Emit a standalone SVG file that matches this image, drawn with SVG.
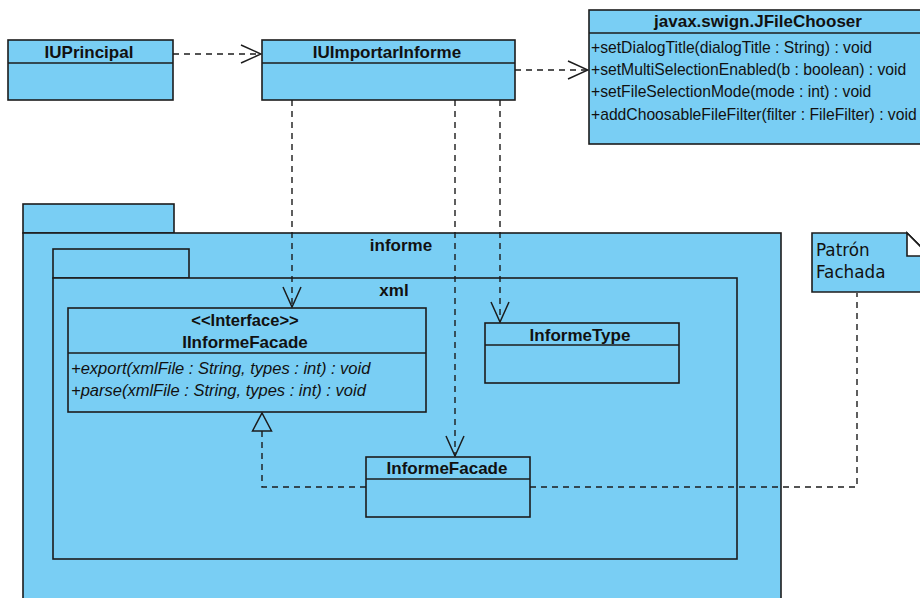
<svg xmlns="http://www.w3.org/2000/svg" width="920" height="598" viewBox="0 0 920 598">
  <style>
    .box { fill: #79CEF4; stroke: #1c1c1c; stroke-width: 1.6; }
    .sep { stroke: #1c1c1c; stroke-width: 1.6; fill: none; }
    .title { font-family: "Liberation Sans", Arial, sans-serif; font-weight: bold; font-size: 17px; fill: #111; text-anchor: middle; }
    .op { font-family: "Liberation Sans", Arial, sans-serif; font-size: 15.7px; fill: #111; }
    .opi { font-family: "Liberation Sans", Arial, sans-serif; font-size: 16.5px; font-style: italic; fill: #111; }
    .note { font-family: "DejaVu Sans", "Liberation Sans", sans-serif; font-size: 16.8px; fill: #111; }
    .dash { fill: none; stroke: #1c1c1c; stroke-width: 1.4; stroke-dasharray: 6 5; }
  </style>
  <defs>
    <marker id="open" viewBox="0 0 22 20" refX="21" refY="10" markerWidth="22" markerHeight="20" markerUnits="userSpaceOnUse" orient="auto">
      <path d="M1,1 L21,10 L1,19" fill="none" stroke="#1c1c1c" stroke-width="1.5"/>
    </marker>
    <marker id="realize" viewBox="0 0 20 22" refX="19" refY="11" markerWidth="20" markerHeight="22" markerUnits="userSpaceOnUse" orient="auto">
      <path d="M1,1.5 L19,11 L1,20.5 Z" fill="#79CEF4" stroke="#1c1c1c" stroke-width="1.5"/>
    </marker>
  </defs>

  <rect width="920" height="598" fill="#ffffff"/>

  <!-- package informe -->
  <g id="pkg-informe">
    <rect class="box" x="23" y="204" width="151" height="29"/>
    <rect class="box" x="23" y="233" width="758" height="370"/>
    <text class="title" x="401" y="251">informe</text>
  </g>

  <!-- package xml -->
  <g id="pkg-xml">
    <rect class="box" x="53" y="249" width="136" height="29"/>
    <rect class="box" x="53" y="278" width="684" height="281"/>
    <text class="title" x="394" y="296">xml</text>
  </g>

  <!-- classes -->
  <g id="IUPrincipal">
    <rect class="box" x="8" y="40" width="165" height="60"/>
    <line class="sep" x1="8" y1="63" x2="173" y2="63"/>
    <text class="title" x="89" y="58">IUPrincipal</text>
  </g>

  <g id="IUImportarInforme">
    <rect class="box" x="262" y="40" width="253" height="60"/>
    <line class="sep" x1="262" y1="63" x2="515" y2="63"/>
    <text class="title" x="387" y="58">IUImportarInforme</text>
  </g>

  <g id="JFileChooser">
    <rect class="box" x="589" y="10" width="340" height="134"/>
    <line class="sep" x1="589" y1="33" x2="929" y2="33"/>
    <text class="title" x="758" y="27">javax.swign.JFileChooser</text>
    <text class="op" x="591" y="53">+setDialogTitle(dialogTitle : String) : void</text>
    <text class="op" x="591" y="75">+setMultiSelectionEnabled(b : boolean) : void</text>
    <text class="op" x="591" y="97">+setFileSelectionMode(mode : int) : void</text>
    <text class="op" x="591" y="120">+addChoosableFileFilter(filter : FileFilter) : void</text>
  </g>

  <g id="IInformeFacade">
    <rect class="box" x="68" y="308" width="358" height="104"/>
    <line class="sep" x1="68" y1="353" x2="426" y2="353"/>
    <text class="title" x="245" y="326" style="font-size:16.5px">&lt;&lt;Interface&gt;&gt;</text>
    <text class="title" x="245" y="348">IInformeFacade</text>
    <text class="opi" x="71" y="374">+export(xmlFile : String, types : int) : void</text>
    <text class="opi" x="71" y="396">+parse(xmlFile : String, types : int) : void</text>
  </g>

  <g id="InformeType">
    <rect class="box" x="485" y="323" width="194" height="60"/>
    <line class="sep" x1="485" y1="345" x2="679" y2="345"/>
    <text class="title" x="580" y="341">InformeType</text>
  </g>

  <g id="InformeFacade">
    <rect class="box" x="366" y="457" width="164" height="60"/>
    <line class="sep" x1="366" y1="479" x2="530" y2="479"/>
    <text class="title" x="447" y="474">InformeFacade</text>
  </g>

  <!-- note -->
  <g id="note-fachada">
    <path class="box" d="M812,233 L907,233 L930,256 L930,292 L812,292 Z"/>
    <path d="M907,233 L907,256 L930,256 Z" fill="#ffffff" stroke="#1c1c1c" stroke-width="1.6"/>
    <text class="note" x="816" y="256">Patrón</text>
    <text class="note" x="816" y="278">Fachada</text>
  </g>

  <!-- connectors -->
  <g id="connectors">
    <line class="dash" x1="173" y1="54" x2="261" y2="54" marker-end="url(#open)"/>
    <line class="dash" x1="515" y1="70" x2="588" y2="70" marker-end="url(#open)"/>
    <line class="dash" x1="292" y1="100" x2="292" y2="307" marker-end="url(#open)"/>
    <line class="dash" x1="455" y1="100" x2="455" y2="456" marker-end="url(#open)"/>
    <line class="dash" x1="500" y1="100" x2="500" y2="322" marker-end="url(#open)"/>
    <polyline class="dash" points="366,487 262,487 262,413" marker-end="url(#realize)"/>
    <polyline class="dash" points="530,487 857,487 857,293"/>
  </g>
</svg>
